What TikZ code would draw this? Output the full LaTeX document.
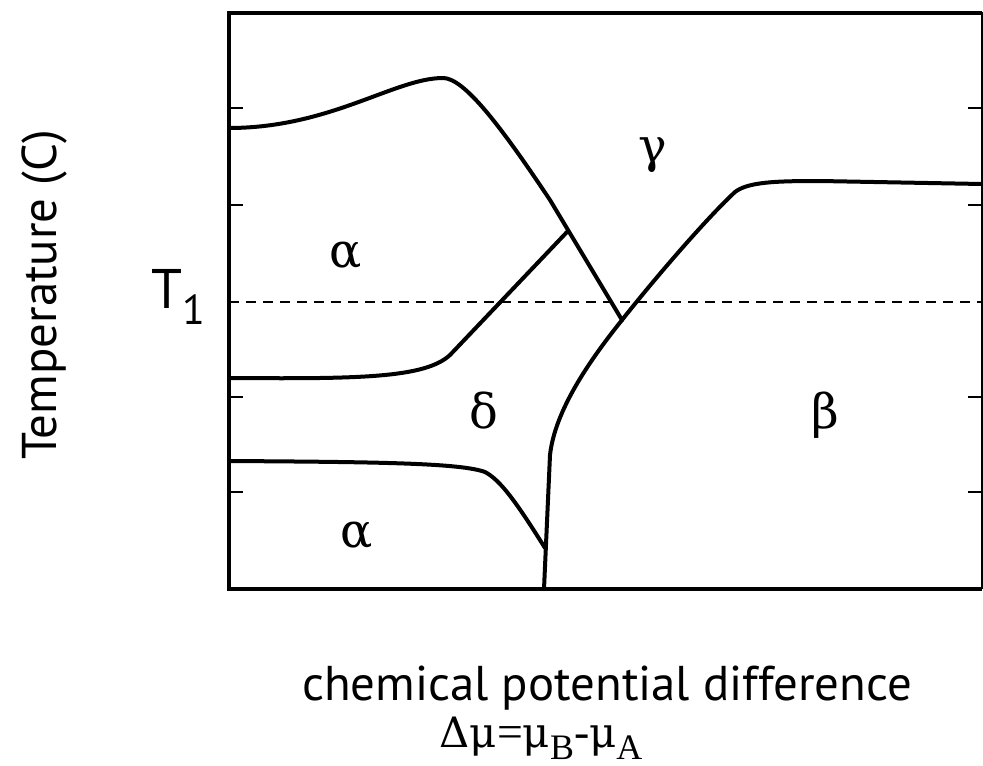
\documentclass[tikz,border=0pt]{standalone}
\usepackage{fontspec}
\setmainfont{Liberation Serif}
\setsansfont{PT Sans}
\newfontfamily\grk{DejaVu Serif}
\begin{document}
\begin{tikzpicture}[x=1bp,y=-1bp,
  phase/.style={line width=4bp,line cap=round,line join=round},
  frame/.style={line width=4.5bp},
  thin/.style={line width=1.6bp},
  tickmark/.style={line width=1.6bp},
  plab/.style={font=\grk\fontsize{48}{48}\selectfont,inner sep=0pt,anchor=base},
  axlab/.style={font=\sffamily\fontsize{49}{49}\selectfont,inner sep=0pt}]
\useasboundingbox (0,0) rectangle (983,766);
% frame
\draw[thin] (229,13) -- (982,13) -- (982,589);
\draw[frame] (229,589) -- (229,13) -- (982,13);
\draw[frame] (227,589) -- (982,589);
% ticks
\foreach \y in {108,205,397,492}{
  \draw[tickmark] (229,\y) -- (243,\y);
  \draw[tickmark] (982,\y) -- (968,\y);
}
% dashed T1 line
\draw[thin,dash pattern=on 10bp off 7bp] (229,302) -- (982,302);
% triple points
\coordinate (tA) at (567,232);
\coordinate (tB) at (622,320);
% phase boundaries
\draw[phase] (229,128) .. controls (330,128) and (395,78) .. (443,78)
  .. controls (464,78) and (500,125) .. (550,200) -- (tB);
\draw[phase] (229,378) .. controls (360,379) and (425,378) .. (450,355) -- (tA);
\draw[phase] (tB) .. controls (660,272) and (710,215) .. (735,192)
  .. controls (748,182) and (775,181) .. (820,181) -- (982,184);
\draw[phase] (tB) .. controls (590,360) and (555,410) .. (550,455) -- (544,589);
\draw[phase] (229,461) .. controls (380,462) and (460,463) .. (485,472)
  .. controls (500,480) and (515,500) .. (545,548);
% phase labels
\node[plab] (a1) at (346,267) {α};
\node[plab] (g) at (653,162) {γ};
\node[plab] (d) at (484,428) {δ};
\node[plab] (b) at (825,428) {β};
\node[plab] (a2) at (357,547) {α};
% axis labels
\node[axlab,anchor=base,rotate=90] (ylab) at (56,295) {Temperature (C)};
\node[axlab,anchor=base west] (t1) at (151,308) {\fontsize{56}{56}\selectfont T\raisebox{-0.3em}{\fontsize{42}{42}\selectfont 1}};
\node[axlab,anchor=base] (xlab) at (607,700) {chemical potential difference};
\node[inner sep=0pt,anchor=base,font=\fontsize{46}{46}\selectfont] (mu) at (541,747) {{\grk\fontsize{42}{42}\selectfont Δμ}={\grk\fontsize{42}{42}\selectfont μ}\raisebox{-12bp}{\fontsize{36}{36}\selectfont B}-{\grk\fontsize{42}{42}\selectfont μ}\raisebox{-12bp}{\fontsize{36}{36}\selectfont A}};
\end{tikzpicture}
\end{document}
